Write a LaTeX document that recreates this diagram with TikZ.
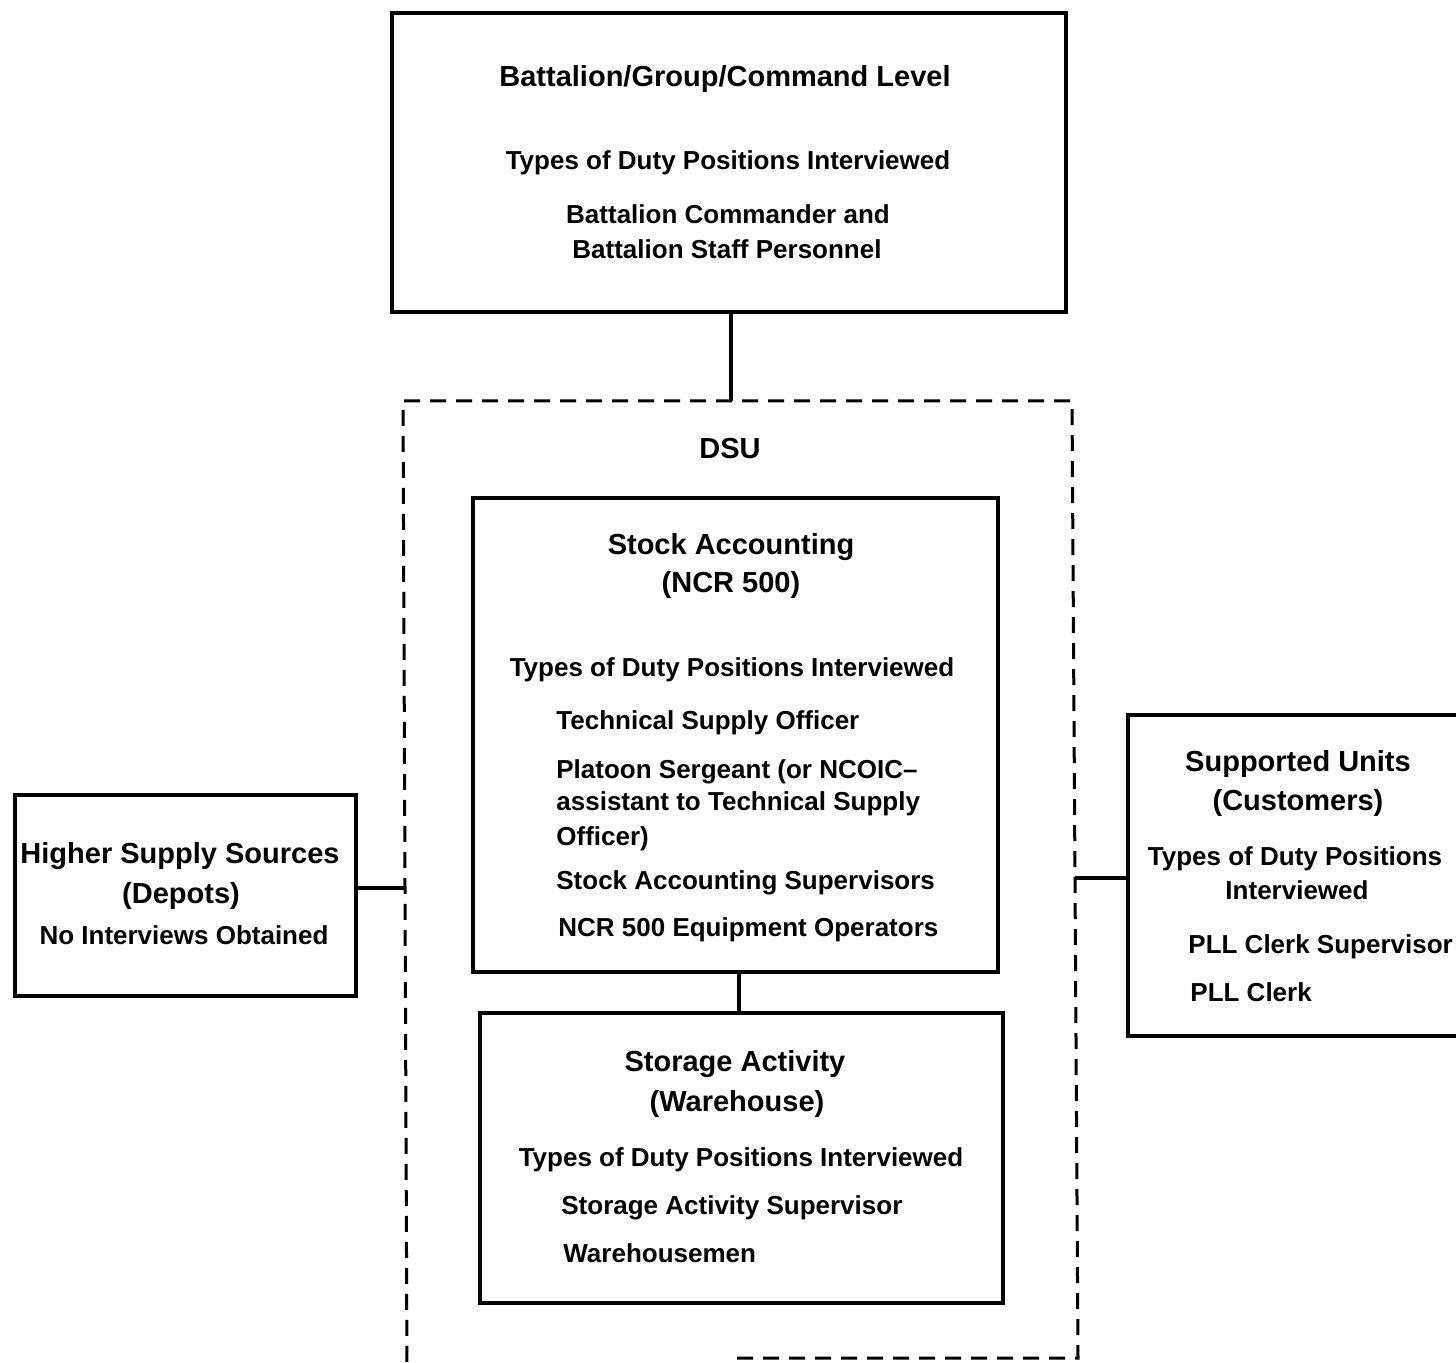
\documentclass[tikz,border=0pt]{standalone}
\usepackage{fontspec}
\setmainfont{Liberation Sans}
\usetikzlibrary{fit}
\begin{document}
\begin{tikzpicture}[x=0.5pt,y=-0.5pt,
  box/.style={draw,line width=1.8pt,inner sep=0pt},
  conn/.style={line width=1.8pt},
  dsuline/.style={line width=1.5pt,dash pattern=on 8pt off 5pt},
  ttl/.style={anchor=base,inner sep=0pt,font=\fontsize{14.5}{17}\selectfont\bfseries},
  itm/.style={anchor=base,inner sep=0pt,font=\fontsize{13}{16}\selectfont\bfseries},
  itml/.style={itm,anchor=base west}]
\clip (0,0) rectangle (1456,1363);
\fill[white] (0,0) rectangle (1456,1363);

% boxes
\node[box,fit={(392,13) (1066,312)}] (top) {};
\node[box,fit={(473,498) (998,972)}] (stock) {};
\node[box,fit={(480,1013) (1003,1303)}] (store) {};
\node[box,fit={(15,795) (356,996)}] (higher) {};
\node[box,fit={(1128,715) (1500,1036)}] (supp) {};

% DSU dashed frame
\coordinate (dNW) at (403,401);
\coordinate (dNE) at (1072,401);
\coordinate (dSE) at (1078,1358);
\coordinate (dSW) at (407,1375);
\coordinate (dSB) at (737,1358);
\coordinate (dTop) at (731,401);
\coordinate (dLeft) at (404,888);
\coordinate (dRight) at (1075,878);
\draw[dsuline] (dSB) -- (dSE) -- (dNE) -- (dNW) -- (dSW);

% connectors
\draw[conn] (top.south -| dTop) -- (dTop);
\draw[conn] (stock.south -| 739,0) -- (store.north -| 739,0);
\draw[conn] (higher.east |- dLeft) -- (dLeft);
\draw[conn] (dRight) -- (supp.west |- dRight);

% top box texts
\node[ttl] (t1) at (725,87) {Battalion/Group/Command Level};
\node[itm] (t2) at (728,170) {Types of Duty Positions Interviewed};
\node[itm] (t3) at (728,224) {Battalion Commander and};
\node[itm] (t4) at (727,259) {Battalion Staff Personnel};

% DSU
\node[ttl] (dsu) at (730,459) {DSU};

% stock accounting
\node[ttl] (s1) at (731,555) {Stock Accounting};
\node[ttl] (s2) at (731,593) {(NCR 500)};
\node[itm] (s3) at (732,676) {Types of Duty Positions Interviewed};
\node[itml] (s4) at (556,729) {Technical Supply Officer};
\node[itml] (s5) at (556,778) {Platoon Sergeant (or NCOIC–};
\node[itml] (s6) at (556,810) {assistant to Technical Supply};
\node[itml] (s7) at (556,845) {Officer)};
\node[itml] (s8) at (556,889) {Stock Accounting Supervisors};
\node[itml] (s9) at (558,936) {NCR 500 Equipment Operators};

% storage activity
\node[ttl] (w1) at (735,1071) {Storage Activity};
\node[ttl] (w2) at (737,1111) {(Warehouse)};
\node[itm] (w3) at (741,1166) {Types of Duty Positions Interviewed};
\node[itml] (w4) at (561,1214) {Storage Activity Supervisor};
\node[itml] (w5) at (563,1262) {Warehousemen};

% higher supply sources
\node[ttl] (h1) at (180,863) {Higher Supply Sources};
\node[ttl] (h2) at (181,903) {(Depots)};
\node[itm] (h3) at (184,944) {No Interviews Obtained};

% supported units
\node[ttl] (u1) at (1298,771) {Supported Units};
\node[ttl] (u2) at (1298,810) {(Customers)};
\node[itm] (u3) at (1295,865) {Types of Duty Positions};
\node[itm] (u4) at (1297,899) {Interviewed};
\node[itml] (u5) at (1188,953) {PLL Clerk Supervisor};
\node[itml] (u6) at (1190,1001) {PLL Clerk};
\end{tikzpicture}
\end{document}
